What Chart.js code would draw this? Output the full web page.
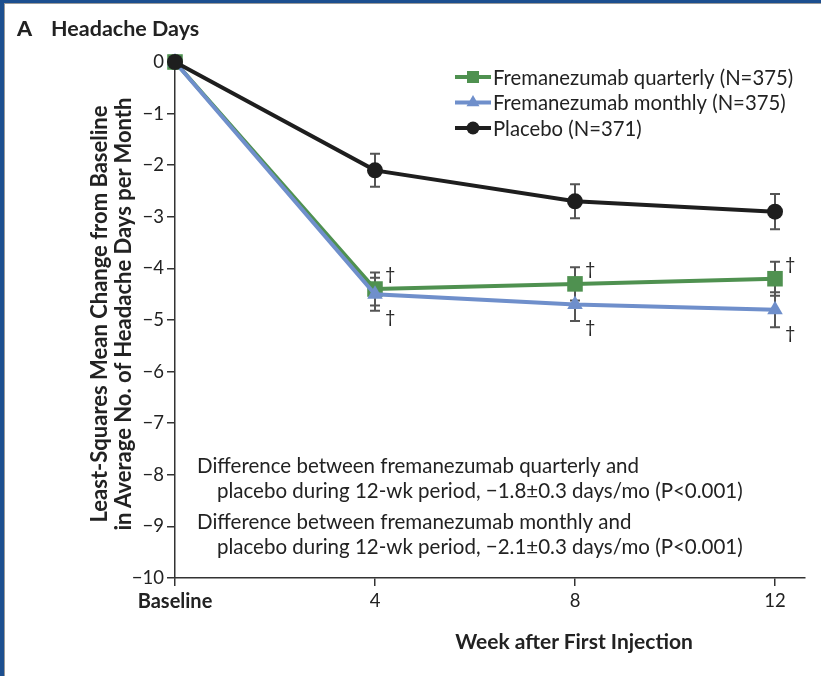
<!DOCTYPE html>
<html>
<head>
<meta charset="utf-8">
<script src="https://cdn.jsdelivr.net/npm/chart.js@4"></script>
<style>
  body { margin: 0; background: #fff; }
  #wrap { position: relative; width: 821px; height: 676px; overflow: hidden; font-family: Lato, "Open Sans", sans-serif; color: #222; }
  #frame { position: absolute; left: 0; top: 0; right: 0; bottom: 0; border-left: 4px solid #1c4f8f; border-top: 3px solid #1c4f8f; }
  #frame2 { position: absolute; left: 0; top: 0; right: 0; bottom: 0; border-left: 1px solid #9a9a9a; border-top: 1px solid #9a9a9a; }
  canvas { position: absolute; left: 0; top: 0; }
  .heading { position: absolute; left: 17px; top: 15px; font-weight: bold; font-size: 21.5px; white-space: nowrap; }
  .heading b { margin-right: 19px; }
  .ylabel { position: absolute; left: -138px; top: 289px; width: 500px; height: 50px; line-height: 24px; text-align: center;
            font-weight: bold; font-size: 22px; transform: rotate(-90deg); white-space: nowrap; }
  .xlabel { position: absolute; left: 374px; top: 628px; width: 400px; text-align: center; font-weight: bold; font-size: 21px; }
</style>
</head>
<body>
<div id="wrap">
  <canvas id="headacheChart" width="821" height="676"></canvas>
  <div id="frame"><div id="frame2"></div></div>
  <div class="heading"><b>A</b>Headache Days</div>
  <div class="ylabel">Least-Squares Mean Change from Baseline<br>in Average No. of Headache Days per Month</div>
  <div class="xlabel">Week after First Injection</div>
</div>
<script>
// weeks after first injection (0 = baseline)
const weeks = [0, 4, 8, 12];
const xTicks = [0, 4, 8, 12];
const yTicks = [0, -1, -2, -3, -4, -5, -6, -7, -8, -9, -10];

const quarterly = [0, -4.4, -4.3, -4.2];
const monthly = [0, -4.5, -4.7, -4.8];
const placebo = [0, -2.1, -2.7, -2.9];

// standard errors shown as whiskers
const quarterlyErr = [0, 0.32, 0.32, 0.33];
const monthlyErr = [0, 0.32, 0.32, 0.34];
const placeboErr = [0, 0.32, 0.33, 0.34];

// which points carry a dagger (significant vs placebo)
const quarterlySig = [false, true, true, true];
const monthlySig = [false, true, true, true];

const seriesNames = ['Fremanezumab quarterly (N=375)', 'Fremanezumab monthly (N=375)', 'Placebo (N=371)'];

const noteLines = [
  'Difference between fremanezumab quarterly and',
  'placebo during 12-wk period, \u22121.8\u00b10.3 days/mo (P<0.001)',
  'Difference between fremanezumab monthly and',
  'placebo during 12-wk period, \u22122.1\u00b10.3 days/mo (P<0.001)'
];

const FONT = 'Lato, "Open Sans", sans-serif';

function points(values) {
  return weeks.map((w, i) => ({ x: w, y: values[i] }));
}

const errorBars = {
  id: 'errorBars',
  beforeDatasetsDraw(chart) {
    const { ctx, scales: { x, y } } = chart;
    ctx.save();
    ctx.strokeStyle = '#555';
    ctx.lineWidth = 2;
    chart.data.datasets.forEach(ds => {
      ds.err.forEach((e, i) => {
        if (!e) return;
        const px = x.getPixelForValue(weeks[i]);
        const top = y.getPixelForValue(ds.values[i] + e);
        const bot = y.getPixelForValue(ds.values[i] - e);
        ctx.beginPath();
        ctx.moveTo(px, top); ctx.lineTo(px, bot);
        ctx.moveTo(px - 5, top); ctx.lineTo(px + 5, top);
        ctx.moveTo(px - 5, bot); ctx.lineTo(px + 5, bot);
        ctx.stroke();
      });
    });
    ctx.restore();
  },
  afterDatasetsDraw(chart) {
    const { ctx, scales: { x, y } } = chart;
    ctx.save();
    ctx.fillStyle = '#222';
    ctx.font = '18px ' + FONT;
    ctx.textBaseline = 'middle';
    chart.data.datasets.forEach(ds => {
      if (!ds.sig) return;
      ds.sig.forEach((s, i) => {
        if (!s) return;
        const px = x.getPixelForValue(weeks[i]);
        const edge = ds.daggerAbove ? ds.values[i] + ds.err[i] : ds.values[i] - ds.err[i];
        const py = y.getPixelForValue(edge) + (ds.daggerAbove ? 2 : 6);
        ctx.fillText('\u2020', px + 10, py);
      });
    });
    ctx.restore();
  }
};

const legendAndNotes = {
  id: 'legendAndNotes',
  afterDraw(chart) {
    const ctx = chart.ctx;
    ctx.save();
    ctx.textBaseline = 'middle';
    chart.data.datasets.forEach((ds, i) => {
      const ly = 77 + i * 25.5;
      ctx.strokeStyle = ds.borderColor;
      ctx.lineWidth = 4;
      ctx.beginPath();
      ctx.moveTo(455, ly); ctx.lineTo(491, ly);
      ctx.stroke();
      ctx.fillStyle = ds.borderColor;
      Chart.helpers.drawPoint(ctx, { pointStyle: ds.pointStyle, radius: ds.legendRadius, rotation: 0, borderWidth: 0 }, 473, ly);
      ctx.fillStyle = '#222';
      ctx.font = '20.3px ' + FONT;
      ctx.fillText(ds.label, 493, ly + 1);
    });
    ctx.font = '20.5px ' + FONT;
    noteLines.forEach((t, i) => {
      const indent = i % 2 === 1 ? 20 : 0;
      const ny = [466, 491, 522, 547][i];
      ctx.fillText(t, 197 + indent, ny);
    });
    ctx.restore();
  }
};

const ctx = document.getElementById('headacheChart').getContext('2d');
new Chart(ctx, {
  type: 'line',
  data: {
    datasets: [
      {
        label: seriesNames[0], data: points(quarterly), values: quarterly, err: quarterlyErr,
        sig: quarterlySig, daggerAbove: true,
        borderColor: '#4f9150', backgroundColor: '#4f9150', borderWidth: 4,
        pointStyle: 'rect', pointRadius: 11, pointBorderWidth: 0, legendRadius: 8.5,
        order: 2, clip: false
      },
      {
        label: seriesNames[1], data: points(monthly), values: monthly, err: monthlyErr,
        sig: monthlySig, daggerAbove: false,
        borderColor: '#6f8fcb', backgroundColor: '#6f8fcb', borderWidth: 4,
        pointStyle: 'triangle', pointRadius: 9, pointBorderWidth: 0, legendRadius: 7.5,
        order: 1, clip: false
      },
      {
        label: seriesNames[2], data: points(placebo), values: placebo, err: placeboErr,
        borderColor: '#1e1e1e', backgroundColor: '#1e1e1e', borderWidth: 4,
        pointStyle: 'circle', pointRadius: 8, pointBorderWidth: 0, legendRadius: 6.5,
        order: 0, clip: false
      }
    ]
  },
  options: {
    responsive: false,
    animation: false,
    events: [],
    layout: { padding: { top: 62, right: 16, left: 0, bottom: 0 } },
    plugins: { legend: { display: false }, tooltip: { enabled: false } },
    scales: {
      x: {
        type: 'linear', min: 0, max: 12.6,
        afterBuildTicks: s => { s.ticks = xTicks.map(v => ({ value: v })); },
        afterFit: s => { s.height = 98; },
        border: { color: '#333', width: 1.5 },
        grid: { drawOnChartArea: false, tickLength: 8, color: '#333', lineWidth: 1.5 },
        ticks: {
          autoSkip: false, maxRotation: 0, padding: 4, color: '#222',
          callback: v => v === 0 ? 'Baseline' : String(v),
          font: c => {
            const base = c.tick && c.tick.value === 0;
            return { family: FONT, size: base ? 20 : 18.5, weight: base ? 'bold' : 'normal' };
          }
        }
      },
      y: {
        min: -10, max: 0,
        afterBuildTicks: s => { s.ticks = yTicks.map(v => ({ value: v })); },
        afterFit: s => { s.width = 175; },
        border: { color: '#333', width: 1.5 },
        grid: { drawOnChartArea: false, tickLength: 8, color: '#333', lineWidth: 1.5 },
        ticks: {
          padding: 3, color: '#222', font: { family: FONT, size: 18.5 },
          callback: v => v === 0 ? '0' : '\u2212' + Math.abs(v)
        }
      }
    }
  },
  plugins: [errorBars, legendAndNotes]
});
</script>
</body>
</html>
